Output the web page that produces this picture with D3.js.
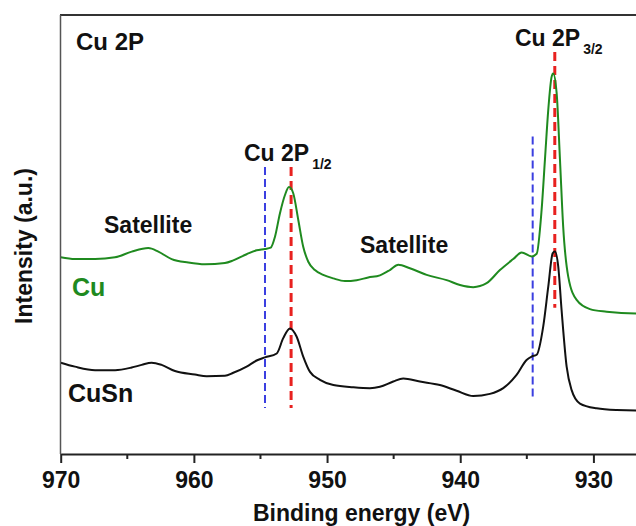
<!DOCTYPE html>
<meta charset="utf-8">
<style>
body { margin: 0; background: #fff; }
text { font-family: Arial, "Liberation Sans", sans-serif; font-weight: bold; }
.tick text { font-size: 23px; fill: #111; }
</style>
<svg width="636" height="526"></svg>
<script src="https://d3js.org/d3.v7.min.js"></script>
<script>

// binding energy (eV) and intensity (a.u.)
var cuEnergy = [970.0, 968.93, 967.42, 965.92, 964.67, 963.42, 962.67, 961.67, 960.42, 959.17,
  957.67, 957.04, 956.04, 955.29, 954.66, 954.23, 953.91, 953.54, 953.16, 952.86,
  952.54, 952.16, 951.79, 951.41, 950.91, 950.29, 949.53, 948.66, 947.78, 946.91,
  946.03, 945.28, 944.65, 943.78, 942.52, 941.02, 940.02, 939.02, 938.02, 937.02,
  936.02, 935.39, 934.64, 934.26, 933.89, 933.64, 933.39, 933.14, 933.02, 932.76,
  932.51, 932.27, 931.89, 931.26, 930.26, 929.01, 926.81, 925.0];
var cuIntensity = [44.8, 44.4, 44.4, 44.8, 46.1, 46.9, 46.1, 44.4, 43.6, 43.2,
  43.5, 44.1, 45.5, 46.4, 46.7, 47.0, 49.5, 54.8, 59.0, 60.8,
  59.4, 53.3, 47.2, 43.8, 41.9, 40.8, 40.0, 39.4, 39.6, 40.2,
  40.7, 41.9, 43.1, 42.3, 40.8, 39.6, 38.5, 38.0, 38.9, 41.9,
  44.4, 45.9, 45.0, 45.6, 55.6, 67.0, 78.4, 85.9, 86.7, 82.2,
  67.0, 51.8, 40.4, 35.1, 33.0, 32.4, 32.0, 32.0];

var cusnEnergy = [970.0, 968.93, 967.42, 965.92, 964.67, 963.92, 963.17, 962.42, 961.42, 959.92,
  959.04, 957.67, 957.04, 956.04, 955.29, 954.66, 953.78, 953.29, 952.79, 952.28,
  951.79, 951.28, 950.53, 949.53, 948.03, 946.78, 946.03, 945.03, 944.28, 943.03,
  941.53, 940.27, 939.02, 937.77, 936.77, 935.77, 935.02, 934.64, 934.26, 933.77,
  933.39, 933.06, 932.89, 932.64, 932.39, 932.01, 931.64, 931.01, 929.76, 928.26,
  926.81, 925.0];
var cusnIntensity = [20.8, 19.9, 19.1, 19.1, 19.7, 20.3, 20.8, 20.3, 18.9, 18.1,
  17.7, 17.8, 18.5, 19.9, 21.3, 22.0, 22.9, 26.4, 28.6, 26.7,
  22.2, 18.7, 16.9, 15.7, 15.2, 15.0, 15.3, 16.5, 17.2, 16.5,
  15.7, 14.4, 13.2, 13.7, 15.0, 18.0, 21.4, 22.2, 22.6, 29.0,
  38.1, 45.7, 46.1, 42.7, 32.8, 19.9, 14.6, 11.5, 10.4, 10.0,
  9.9, 9.9];

// reference lines: energy, top and bottom intensity
var redLines = [[952.7, 65.4, 10.5], [932.9, 91.6, 33.3]];
var blueLines = [[954.66, 65.4, 10.5], [934.56, 72.3, 13.1]];

var xTicks = [970, 960, 950, 940, 930];
var xMinorTicks = [965, 955, 945, 935];

var svg = d3.select("svg");

var x = d3.scaleLinear().domain([970, 925]).range([60.7, 660]);
var y = d3.scaleLinear().domain([0, 100]).range([454, 15]);

var cu = cuEnergy.map(function(e, i) { return [e, cuIntensity[i]]; });
var cusn = cusnEnergy.map(function(e, i) { return [e, cusnIntensity[i]]; });

var line = d3.line()
    .x(function(d) { return x(d[0]); })
    .y(function(d) { return y(d[1]); })
    .curve(d3.curveMonotoneX);

// dashed markers
svg.selectAll(".red").data(redLines).enter().append("line")
    .attr("x1", function(d) { return x(d[0]); })
    .attr("x2", function(d) { return x(d[0]); })
    .attr("y1", function(d) { return y(d[1]); })
    .attr("y2", function(d) { return y(d[2]); })
    .attr("stroke", "#e8211f")
    .attr("stroke-width", 3)
    .attr("stroke-dasharray", "9,5");

svg.selectAll(".blue").data(blueLines).enter().append("line")
    .attr("x1", function(d) { return x(d[0]); })
    .attr("x2", function(d) { return x(d[0]); })
    .attr("y1", function(d) { return y(d[1]); })
    .attr("y2", function(d) { return y(d[2]); })
    .attr("stroke", "#3b3fe0")
    .attr("stroke-width", 2)
    .attr("stroke-dasharray", "8,4");

svg.append("path").datum(cu)
    .attr("d", line)
    .attr("fill", "none")
    .attr("stroke", "#1f8a1f")
    .attr("stroke-width", 2);

svg.append("path").datum(cusn)
    .attr("d", line)
    .attr("fill", "none")
    .attr("stroke", "#111")
    .attr("stroke-width", 2);

// frame
svg.append("line").attr("x1", 60).attr("x2", 636).attr("y1", 15).attr("y2", 15)
    .attr("stroke", "#333").attr("stroke-width", 2);
svg.append("line").attr("x1", 60.5).attr("x2", 60.5).attr("y1", 15).attr("y2", 454)
    .attr("stroke", "#555").attr("stroke-width", 1.5);

var xAxis = svg.append("g")
    .attr("transform", "translate(0,454)")
    .call(d3.axisBottom(x).tickValues(xTicks).tickSize(9).tickSizeOuter(0).tickPadding(9));
xAxis.select(".domain").attr("stroke", "#222").attr("stroke-width", 2);
xAxis.selectAll(".tick line").attr("stroke", "#222").attr("stroke-width", 2);

svg.append("g").selectAll("line").data(xMinorTicks).enter().append("line")
    .attr("x1", function(d) { return x(d); })
    .attr("x2", function(d) { return x(d); })
    .attr("y1", 454).attr("y2", 459)
    .attr("stroke", "#222").attr("stroke-width", 2);

// labels
svg.append("text").attr("x", 253).attr("y", 521).attr("font-size", 23).attr("fill", "#111")
    .text("Binding energy (eV)");
svg.append("text").attr("transform", "translate(32,246) rotate(-90)")
    .attr("text-anchor", "middle").attr("font-size", 23).attr("fill", "#111")
    .text("Intensity (a.u.)");

svg.append("text").attr("x", 76).attr("y", 50).attr("font-size", 24).attr("fill", "#111")
    .text("Cu 2P");

function peakLabel(px, py, sub) {
  var t = svg.append("text").attr("x", px).attr("y", py).attr("font-size", 23).attr("fill", "#111");
  t.append("tspan").text("Cu 2P");
  t.append("tspan").attr("dx", 3).attr("dy", 8).attr("font-size", 14).text(sub);
}
peakLabel(244, 161, "1/2");
peakLabel(515, 46, "3/2");

svg.append("text").attr("x", 104).attr("y", 233).attr("font-size", 23).attr("fill", "#111")
    .text("Satellite");
svg.append("text").attr("x", 360).attr("y", 253).attr("font-size", 23).attr("fill", "#111")
    .text("Satellite");

svg.append("text").attr("x", 72).attr("y", 296).attr("font-size", 25).attr("fill", "#1f8a1f")
    .text("Cu");
svg.append("text").attr("x", 68).attr("y", 402).attr("font-size", 25).attr("fill", "#111")
    .text("CuSn");

</script>
